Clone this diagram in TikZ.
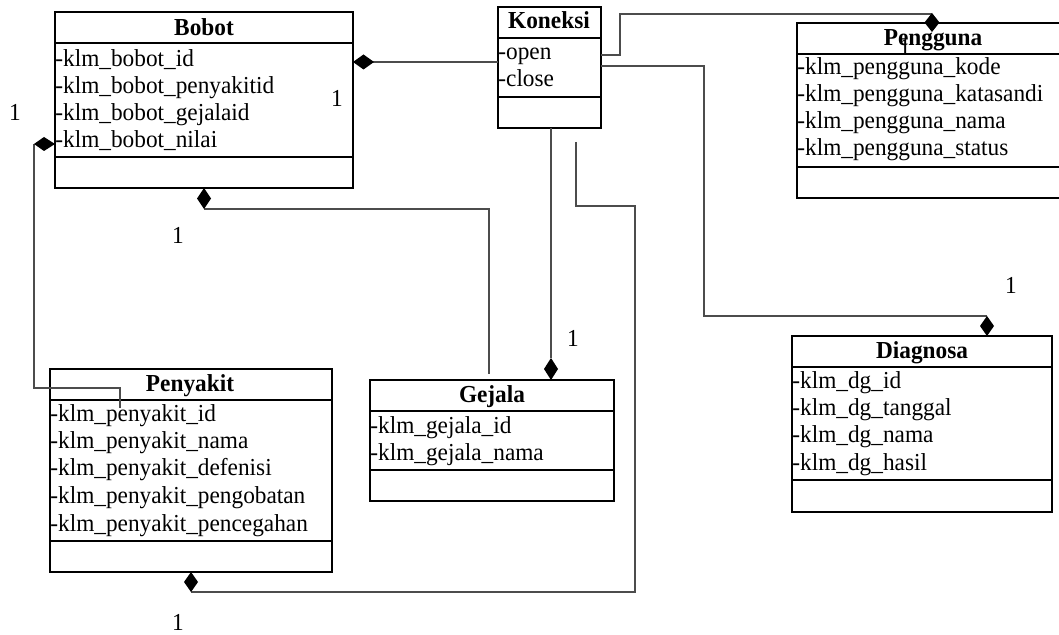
\documentclass[tikz,border=0pt]{standalone}
\usepackage{fontspec}
\setmainfont{Liberation Serif}[FakeStretch=0.955]
\usetikzlibrary{fit}
\begin{document}
\begin{tikzpicture}[x=0.5pt,y=-0.5pt,
  box/.style={draw=black, line width=0.65pt, inner sep=0pt},
  sepl/.style={draw=black, line width=0.65pt},
  ttl/.style={font=\fontsize{12.2}{14}\selectfont\bfseries, anchor=base, inner sep=0pt},
  attr/.style={font=\fontsize{12.2}{14}\selectfont, anchor=base west, inner sep=0pt},
  lbl/.style={font=\fontsize{12.2}{14}\selectfont, inner sep=0pt},
  conn/.style={draw=black!70, line width=0.55pt},
  dia/.style={fill=black}]
\useasboundingbox (0,0) rectangle (1059,635);
\clip (0,0) rectangle (1059,635);

% ---------- Bobot ----------
\node[box, fit={(55,12) (353,188)}] (bobot) {};
\draw[sepl] (55,43) -- (353,43);
\draw[sepl] (55,157) -- (353,157);
\node[ttl] (bobotT) at (204,36) {Bobot};
\node[attr] (b1) at (55,67) {-klm\_bobot\_id};
\node[attr] (b2) at (55,94) {-klm\_bobot\_penyakitid};
\node[attr] (b3) at (55,121) {-klm\_bobot\_gejalaid};
\node[attr] (b4) at (55,148) {-klm\_bobot\_nilai};

% ---------- Koneksi ----------
\node[box, fit={(498,7) (601,128)}] (kon) {};
\draw[sepl] (498,38) -- (601,38);
\draw[sepl] (498,97) -- (601,97);
\node[ttl] (konT) at (549,29) {Koneksi};
\node[attr] (k1) at (498,60) {-open};
\node[attr] (k2) at (498,87) {-close};

% ---------- Pengguna ----------
\node[box, fit={(797,23) (1070,198)}] (peng) {};
\draw[sepl] (797,54) -- (1070,54);
\draw[sepl] (797,167) -- (1070,167);
\node[ttl] (pengT) at (933,46) {Pengguna};
\node[attr] (p1) at (797,75) {-klm\_pengguna\_kode};
\node[attr] (p2) at (797,102) {-klm\_pengguna\_katasandi};
\node[attr] (p3) at (797,129) {-klm\_pengguna\_nama};
\node[attr] (p4) at (797,156) {-klm\_pengguna\_status};

% ---------- Diagnosa ----------
\node[box, fit={(792,336) (1052,512)}] (diag) {};
\draw[sepl] (792,367) -- (1052,367);
\draw[sepl] (792,480) -- (1052,480);
\node[ttl] (diagT) at (922,359) {Diagnosa};
\node[attr] (d1) at (792,389) {-klm\_dg\_id};
\node[attr] (d2) at (792,416) {-klm\_dg\_tanggal};
\node[attr] (d3) at (792,443) {-klm\_dg\_nama};
\node[attr] (d4) at (792,471) {-klm\_dg\_hasil};

% ---------- Penyakit ----------
\node[box, fit={(50,369) (332,572)}] (peny) {};
\draw[sepl] (50,400) -- (332,400);
\draw[sepl] (50,541) -- (332,541);
\node[ttl] (penyT) at (190,392) {Penyakit};
\node[attr] (y1) at (50,422) {-klm\_penyakit\_id};
\node[attr] (y2) at (50,449) {-klm\_penyakit\_nama};
\node[attr] (y3) at (50,476) {-klm\_penyakit\_defenisi};
\node[attr] (y4) at (50,503) {-klm\_penyakit\_pengobatan};
\node[attr] (y5) at (50,531) {-klm\_penyakit\_pencegahan};

% ---------- Gejala ----------
\node[box, fit={(370,380) (614,501)}] (gej) {};
\draw[sepl] (370,411) -- (614,411);
\draw[sepl] (370,470) -- (614,470);
\node[ttl] (gejT) at (492,403) {Gejala};
\node[attr] (g1) at (370,434) {-klm\_gejala\_id};
\node[attr] (g2) at (370,461) {-klm\_gejala\_nama};

% ---------- connector end points ----------
\coordinate (cBK) at (373,62);
\coordinate (cKB) at (498,62);
\coordinate (cBL) at (34,144);
\coordinate (cPL) at (120,408);
\coordinate (cBB) at (204,209);
\coordinate (cGB) at (489,374);
\coordinate (cKG) at (551,128);
\coordinate (cGK) at (551,358);
\coordinate (cKP1) at (576,142);
\coordinate (cPK) at (191,592);
\coordinate (cKD) at (601,66);
\coordinate (cDK) at (987,316);
\coordinate (cKU) at (601,55);
\coordinate (cUK) at (932,14);

% ---------- connectors ----------
\draw[conn] (cBK) -- (cKB);
\draw[conn] (cBL) -- (34,388) -- (120,388) -- (cPL);
\draw[conn] (cBB) -- (489,209) -- (cGB);
\draw[conn] (cKG) -- (cGK);
\draw[conn] (cKP1) -- (576,206) -- (635,206) -- (635,592) -- (cPK);
\draw[conn] (cKD) -- (704,66) -- (704,316) -- (cDK);
\draw[conn] (cKU) -- (620,55) -- (620,14) -- (cUK);

% ---------- diamonds ----------
\fill[dia] (353,62) -- (363.5,54.5) -- (374,62) -- (363.5,69.5) -- cycle;
\fill[dia] (34,144) -- (44,137) -- (55,144) -- (44,151) -- cycle;
\fill[dia] (204,188) -- (211,198.5) -- (204,209) -- (197,198.5) -- cycle;
\fill[dia] (551,358) -- (558,369) -- (551,380) -- (544,369) -- cycle;
\fill[dia] (191,572) -- (198,582) -- (191,592) -- (184,582) -- cycle;
\fill[dia] (987,316) -- (994,326) -- (987,336) -- (980,326) -- cycle;
\fill[dia] (932,13) -- (939.5,22.5) -- (932,32) -- (924.5,22.5) -- cycle;

% ---------- multiplicities ----------
\node[lbl] (m1) at (15,112) {1};
\node[lbl] (m2) at (337,98) {1};
\node[lbl] (m3) at (178,235) {1};
\node[lbl] (m4) at (573,338) {1};
\node[lbl] (m5) at (178,622) {1};
\node[lbl] (m6) at (905,47) {1};
\node[lbl] (m7) at (1011,285) {1};
\end{tikzpicture}
\end{document}
